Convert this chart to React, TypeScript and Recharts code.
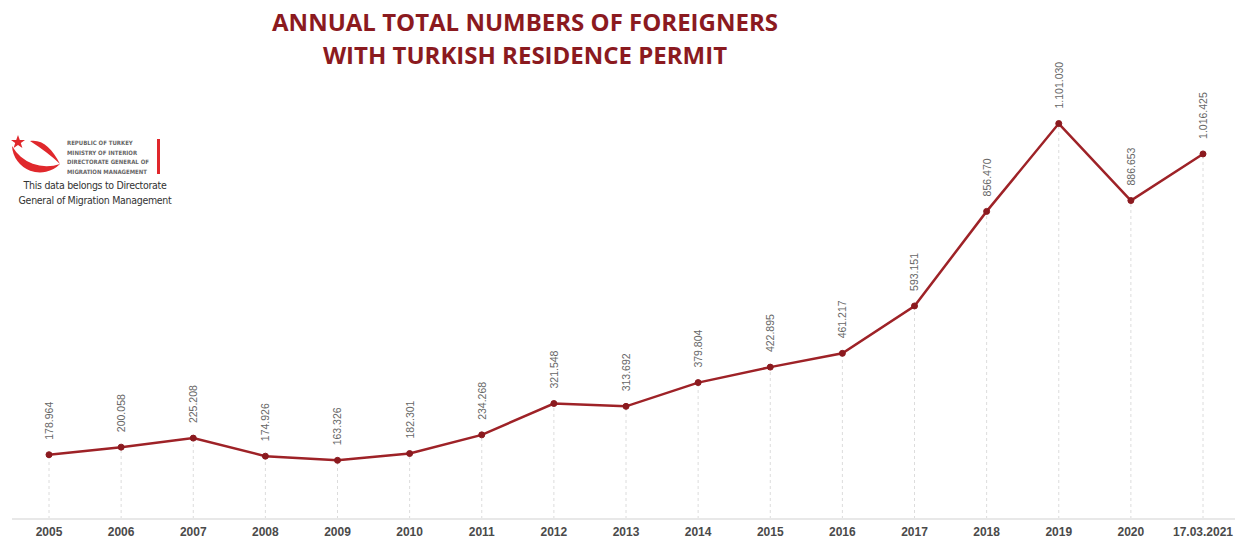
import { LineChart, Line, XAxis, YAxis, LabelList, ReferenceLine } from "recharts"

const years = [
  "2005", "2006", "2007", "2008", "2009", "2010", "2011", "2012", "2013",
  "2014", "2015", "2016", "2017", "2018", "2019", "2020", "17.03.2021",
]
const permits = [
  178964, 200058, 225208, 174926, 163326, 182301, 234268, 321548, 313692,
  379804, 422895, 461217, 593151, 856470, 1101030, 886653, 1016425,
]

const data = years.map((year, i) => ({ year, permits: permits[i] }))

const fmt = (v: number) => v.toLocaleString("de-DE")

function ValueLabel(props: any) {
  const { x, y, value } = props
  return (
    <text
      x={x}
      y={y - 15}
      transform={`rotate(-90, ${x}, ${y - 15})`}
      textAnchor="start"
      dominantBaseline="central"
      fontFamily="Liberation Sans, Arial, sans-serif"
      fontSize={10.5}
      fill="#666"
    >
      {fmt(value)}
    </text>
  )
}

function Logo() {
  return (
    <div style={{ position: "absolute", left: 0, top: 130, width: 200 }}>
      <svg width={200} height={50} style={{ position: "absolute", left: 0, top: 0 }}>
        <path d="M 12 16 A 28 28 0 0 0 60 34 A 40 40 0 0 1 12 16 Z" fill="#e0282c" />
        <path d="M 30 11 C 42 9, 52 18, 60 34 C 52 26, 42 19, 30 11 Z" fill="#e0282c" />
        <polygon
          points="18,5 19.8,10 25,10 20.8,13 22.4,18 18,15 13.6,18 15.2,13 11,10 16.2,10"
          fill="#e0282c"
        />
        <rect x={157} y={9} width={3} height={35} fill="#e0282c" />
      </svg>
      <div
        style={{
          position: "absolute",
          left: 67,
          top: 8,
          fontFamily: "DejaVu Sans Condensed, sans-serif",
          fontSize: 6,
          fontWeight: 700,
          lineHeight: "9.5px",
          color: "#666",
          whiteSpace: "nowrap",
        }}
      >
        <div>REPUBLIC OF TURKEY</div>
        <div>MINISTRY OF INTERIOR</div>
        <div>DIRECTORATE GENERAL OF</div>
        <div>MIGRATION MANAGEMENT</div>
      </div>
      <div
        style={{
          position: "absolute",
          left: 0,
          top: 48,
          width: 190,
          textAlign: "center",
          fontFamily: "DejaVu Sans Condensed, sans-serif",
          fontSize: 10.5,
          lineHeight: "15px",
          color: "#333",
          letterSpacing: -0.3,
        }}
      >
        <div>This data belongs to Directorate</div>
        <div>General of Migration Management</div>
      </div>
    </div>
  )
}

export default function App() {
  return (
    <div
      style={{
        position: "absolute",
        left: 0,
        top: 0,
        width: 1245,
        height: 540,
        background: "#fff",
        overflow: "hidden",
      }}
    >
      <div
        style={{
          position: "absolute",
          left: 0,
          top: 5,
          width: 1050,
          textAlign: "center",
          fontFamily: "Open Sans, sans-serif",
          fontWeight: 700,
          fontSize: 24,
          lineHeight: "33px",
          color: "#8b1a1f",
        }}
      >
        <div>ANNUAL TOTAL NUMBERS OF FOREIGNERS</div>
        <div>WITH TURKISH RESIDENCE PERMIT</div>
      </div>
      <Logo />
      <LineChart
        width={1245}
        height={540}
        data={data}
        margin={{ top: 88, right: 10, bottom: 0, left: 12 }}
      >
        <XAxis
          dataKey="year"
          height={21}
          padding={{ left: 37, right: 32 }}
          axisLine={{ stroke: "#e8e8e8", strokeWidth: 2 }}
          tickLine={false}
          tickSize={0}
          tickMargin={8}
          interval={0}
          tick={{
            fontFamily: "Liberation Sans, Arial, sans-serif",
            fontSize: 12,
            fontWeight: 700,
            fill: "#4a4a4a",
          }}
        />
        <YAxis hide domain={[0, 1200000]} />
        {data.map((d) => (
          <ReferenceLine
            key={d.year}
            segment={[
              { x: d.year, y: 0 },
              { x: d.year, y: d.permits },
            ]}
            stroke="#dcdcdc"
            strokeDasharray="3 3"
          />
        ))}
        <Line
          type="linear"
          dataKey="permits"
          stroke="#9e2227"
          strokeWidth={2.5}
          dot={{ r: 3, fill: "#8b1a1f", stroke: "#8b1a1f", strokeWidth: 1 }}
          isAnimationActive={false}
        >
          <LabelList dataKey="permits" content={<ValueLabel />} />
        </Line>
      </LineChart>
    </div>
  )
}
